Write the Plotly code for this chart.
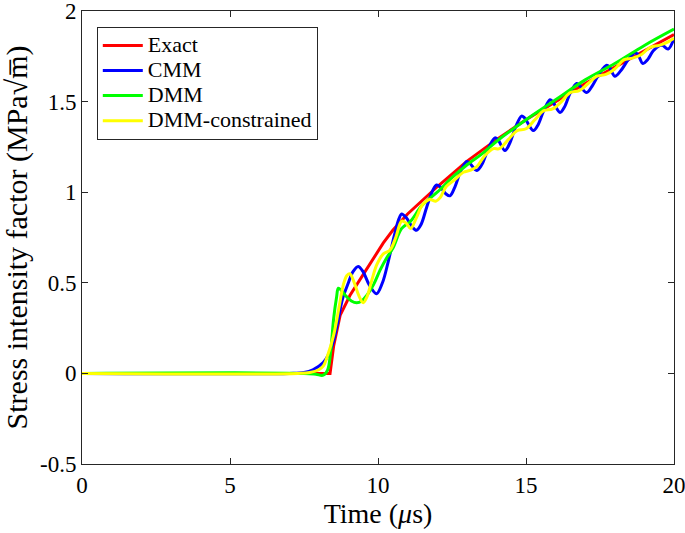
import plotly.graph_objects as go

# Exact solution
t_exact = [0, 8.38, 8.5, 8.72, 9.05, 9.62, 10.18, 10.5, 11.0, 12.0, 13.0, 14.0, 15.0, 16.0, 17.0, 18.0, 19.0, 20.0]
k_exact = [0, 0, 0.15, 0.32, 0.43, 0.58, 0.72, 0.79, 0.88, 1.03, 1.17, 1.29, 1.40, 1.50, 1.60, 1.69, 1.78, 1.87]

# CMM
t_cmm = [0, 7.0, 7.5, 7.8, 8.15, 8.35, 8.5, 8.65, 8.8, 9.0, 9.15, 9.33, 9.5, 9.7, 9.95,
         10.15, 10.35, 10.55, 10.7, 10.8, 10.95, 11.15, 11.3, 11.45, 11.65, 11.85, 11.98,
         12.1, 12.3, 12.43, 12.6, 12.8, 13.0, 13.1, 13.33, 13.5, 13.75, 13.95, 14.05, 14.29,
         14.45, 14.65, 14.85, 14.95, 15.25, 15.4, 15.6, 15.81, 15.9, 16.15, 16.3, 16.5, 16.71,
         16.8, 17.05, 17.25, 17.5, 17.73, 17.82, 18.0, 18.2, 18.45, 18.68, 18.78, 18.95, 19.1,
         19.3, 19.53, 19.62, 19.8, 20.0]
k_cmm = [0, 0, 0.005, 0.02, 0.06, 0.11, 0.18, 0.29, 0.41, 0.50, 0.56, 0.59, 0.56, 0.49, 0.44,
         0.50, 0.62, 0.76, 0.85, 0.88, 0.86, 0.81, 0.79, 0.82, 0.92, 1.01, 1.04,
         1.03, 0.99, 0.98, 1.03, 1.12, 1.17, 1.16, 1.12, 1.15, 1.25, 1.30, 1.29, 1.23,
         1.27, 1.36, 1.42, 1.41, 1.34, 1.37, 1.45, 1.51, 1.50, 1.44, 1.47, 1.55, 1.60,
         1.59, 1.55, 1.59, 1.66, 1.70, 1.69, 1.64, 1.67, 1.73, 1.77, 1.76, 1.71, 1.73,
         1.78, 1.81, 1.81, 1.79, 1.85]

# DMM
t_dmm = [0, 7.5, 7.9, 8.15, 8.3, 8.4, 8.5, 8.6, 8.66, 8.75, 8.9, 9.1, 9.28, 9.45, 9.62, 9.85,
         10.07, 10.3, 10.5, 10.8, 11.1, 11.5, 12.0, 12.5, 13.0, 13.5, 14.0, 15.0, 16.0, 17.0,
         18.0, 19.0, 20.0]
k_dmm = [0, 0, -0.005, -0.01, 0.02, 0.12, 0.30, 0.42, 0.47, 0.46, 0.43, 0.40, 0.39, 0.40, 0.43, 0.49,
         0.57, 0.64, 0.69, 0.80, 0.84, 0.93, 1.00, 1.08, 1.15, 1.21, 1.28, 1.40, 1.51, 1.62,
         1.71, 1.81, 1.90]

# DMM-constrained
t_dmmc = [0, 7.3, 7.7, 8.0, 8.15, 8.3, 8.5, 8.7, 8.83, 8.95, 9.05, 9.2, 9.35, 9.5, 9.62, 9.8,
          9.96, 10.18, 10.4, 10.6, 10.8, 10.95, 11.1, 11.3, 11.5, 11.75, 11.95, 12.1, 12.3,
          12.6, 12.88, 13.1, 13.33, 13.6, 13.9, 14.1, 14.4, 14.7, 15.0, 15.3, 15.6, 15.9,
          16.2, 16.5, 16.8, 17.1, 17.4, 17.7, 18.0, 18.3, 18.6, 18.9, 19.2, 19.5, 19.8, 20.0]
k_dmmc = [0, 0, 0.005, 0.02, 0.04, 0.10, 0.21, 0.38, 0.49, 0.54, 0.55, 0.50, 0.43, 0.39, 0.42, 0.52,
          0.60, 0.66, 0.68, 0.75, 0.84, 0.83, 0.80, 0.86, 0.93, 0.96, 0.95, 0.97, 1.03,
          1.07, 1.11, 1.12, 1.14, 1.20, 1.24, 1.24, 1.29, 1.34, 1.35, 1.40, 1.45, 1.46,
          1.50, 1.55, 1.56, 1.60, 1.64, 1.65, 1.68, 1.73, 1.74, 1.76, 1.80, 1.81, 1.83, 1.85]

x_ticks = [0, 5, 10, 15, 20]
y_ticks = [-0.5, 0, 0.5, 1, 1.5, 2]
y_ticktext = ["-0.5", "0", "0.5", "1", "1.5", "2"]

FONT = "Liberation Serif, Times New Roman, serif"
AX = "#262626"

fig = go.Figure()
series = [
    ("Exact", t_exact, k_exact, "#ff0000", "linear"),
    ("CMM", t_cmm, k_cmm, "#0000ff", "spline"),
    ("DMM", t_dmm, k_dmm, "#00ff00", "spline"),
    ("DMM-constrained", t_dmmc, k_dmmc, "#ffff00", "spline"),
]
for name, t, k, c, shape in series:
    fig.add_trace(go.Scatter(x=t, y=k, mode="lines",
                             name="<span style='font-size:22px'>" + name + "</span>",
                             line=dict(color=c, width=3, shape=shape)))

axis_common = dict(showline=True, linecolor=AX, linewidth=1, mirror="ticks",
                   ticks="inside", ticklen=6, tickcolor=AX, showgrid=False,
                   zeroline=False, ticklabeloverflow="allow", automargin=False,
                   tickfont=dict(family=FONT, size=23, color="#000"))

fig.update_layout(
    width=685, height=533,
    margin=dict(l=82, r=11, t=11, b=69),
    paper_bgcolor="white", plot_bgcolor="white",
    font=dict(family=FONT, color="#000"),
    xaxis=dict(range=[0, 20], tickvals=x_ticks, ticktext=[str(v) for v in x_ticks],
               title=dict(text="Time (<i>μ</i>s)", font=dict(family=FONT, size=28), standoff=2),
               **axis_common),
    yaxis=dict(range=[-0.5, 2], tickvals=y_ticks, ticktext=y_ticktext,
               title=dict(text="Stress intensity factor (MPa√m\u0305)",
                          font=dict(family=FONT, size=30), standoff=4),
               **axis_common),
    legend=dict(x=0.025, y=0.965, xanchor="left", yanchor="top",
                bgcolor="white", bordercolor=AX, borderwidth=1,
                font=dict(family=FONT, size=17), tracegroupgap=0,
                itemwidth=40),
    showlegend=True,
)

fig.write_html("out.html", config={"displayModeBar": False},
               post_script="document.body.style.margin='0';")
